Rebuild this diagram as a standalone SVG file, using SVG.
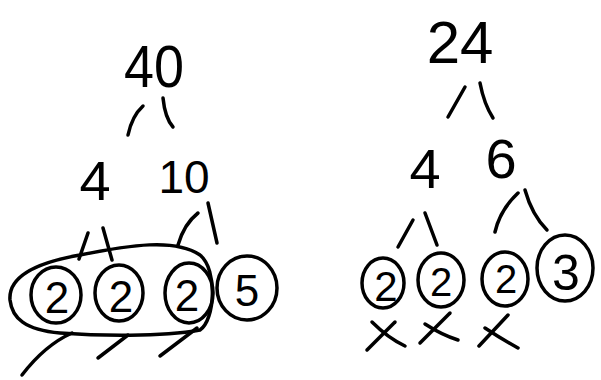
<svg xmlns="http://www.w3.org/2000/svg" width="601" height="380" viewBox="0 0 601 380">
<style>
.ink{fill:none;stroke:#000;stroke-width:3.5;stroke-linecap:round;stroke-linejoin:round}
.num{font-family:"Liberation Sans","DejaVu Sans",sans-serif;fill:#000;text-anchor:middle}
</style>
<rect width="601" height="380" fill="#fff"/>
<g id="connectors" class="ink">
<path d="M143,106 Q132,116 128,135"/>
<path d="M163,98 Q165,118 173,127"/>
<path d="M88,233 L79,259"/>
<path d="M103,228 L112,260"/>
<path d="M198,213 Q184,224 178,245"/>
<path d="M208,203 L217,243"/>
<path d="M465,87 L448,117"/>
<path d="M480,83 Q484,104 493,118"/>
<path d="M413,220 L398,247"/>
<path d="M425,213 L437,245"/>
<path d="M518,193 Q500,210 495,232"/>
<path d="M525,190 Q532,215 547,230"/>
</g>
<g id="n40"><text class="num" x="154" y="87" font-size="60" textLength="60" lengthAdjust="spacingAndGlyphs">40</text></g>
<g id="n4a"><text class="num" x="95" y="200" font-size="56">4</text></g>
<g id="n10"><text class="num" x="184" y="193" font-size="46">10</text></g>
<g id="c2a"><ellipse class="ink" cx="56" cy="295" rx="25" ry="28"/><text class="num" x="57" y="313" font-size="44">2</text></g>
<g id="c2b"><ellipse class="ink" cx="119" cy="293" rx="24" ry="28"/><text class="num" x="121" y="312" font-size="44">2</text></g>
<g id="c2c"><ellipse class="ink" cx="189" cy="293" rx="24" ry="30"/><text class="num" x="187" y="311" font-size="44">2</text></g>
<g id="c5"><ellipse class="ink" cx="247" cy="288" rx="30" ry="32"/><text class="num" x="247" y="306" font-size="44">5</text></g>
<g id="oval"><path class="ink" d="M10,300 C8,275 40,262 80,255 C130,245 175,238 200,255 C218,270 215,320 200,330 C160,337 100,336 60,333 C25,330 12,318 10,300 Z"/></g>
<g id="slashes" class="ink">
<path d="M22,375 Q45,345 72,333"/>
<path d="M98,358 L128,335"/>
<path d="M160,356 L197,328"/>
</g>
<g id="n24"><text class="num" x="460" y="63" font-size="60">24</text></g>
<g id="n4b"><text class="num" x="425" y="188" font-size="56">4</text></g>
<g id="n6"><text class="num" x="501" y="178" font-size="56">6</text></g>
<g id="d2a"><ellipse class="ink" cx="383" cy="283" rx="21" ry="25"/><text class="num" x="386" y="301" font-size="42">2</text></g>
<g id="d2b"><ellipse class="ink" cx="441" cy="280" rx="23" ry="27"/><text class="num" x="441" y="296" font-size="40">2</text></g>
<g id="d2c"><ellipse class="ink" cx="505" cy="279" rx="23" ry="27"/><text class="num" x="506" y="293" font-size="40">2</text></g>
<g id="d3"><ellipse class="ink" cx="565" cy="268" rx="28" ry="33"/><text class="num" x="566" y="290" font-size="50">3</text></g>
<g id="xmarks" class="ink">
<path d="M367,350 L395,322"/><path d="M372,322 Q388,338 405,346"/>
<path d="M420,343 L450,313"/><path d="M425,324 Q442,335 458,340"/>
<path d="M479,346 L508,315"/><path d="M485,328 Q500,338 518,348"/>
</g>
</svg>
